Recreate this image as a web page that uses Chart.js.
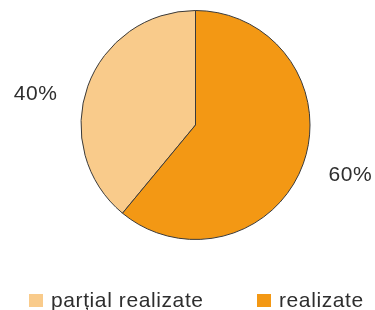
<!DOCTYPE html>
<html>
<head>
<meta charset="utf-8">
<script src="https://cdn.jsdelivr.net/npm/chart.js@4"></script>
<style>
  html, body { margin: 0; padding: 0; background: #fff; }
  #wrap { width: 375px; height: 310px; position: relative; }
</style>
</head>
<body>
<div id="wrap"><canvas id="myChart"></canvas></div>
<script>
const labels = ['parțial realizate', 'realizate'];
const values = [39, 61];
const valueLabels = ['40%', '60%'];
const colors = ['#F9CB8B', '#F39814'];

const FONT = '"Liberation Sans", Arial, sans-serif';
const TEXT = '#2e2e2e';

// percent labels + custom legend
const extras = {
    id: 'extras',
    afterDraw: (chart) => {
        const ctx = chart.ctx;
        const arcs = chart.getDatasetMeta(0).data;
        ctx.save();
        ctx.fillStyle = TEXT;
        ctx.font = '21px ' + FONT;
        ctx.letterSpacing = '0.6px';
        ctx.textAlign = 'center';
        ctx.textBaseline = 'middle';
        // nudges so labels sit like the original
        const nudge = [[-9, 24], [4, -4]];
        arcs.forEach((arc, i) => {
            const mid = (arc.startAngle + arc.endAngle) / 2;
            const dist = arc.outerRadius * 1.4;
            const x = arc.x + Math.cos(mid) * dist + nudge[i][0];
            const y = arc.y + Math.sin(mid) * dist + nudge[i][1];
            ctx.fillText(valueLabels[i], x, y);
        });

        // legend
        const itemX = [29, 257];
        const boxY = 294;
        ctx.textAlign = 'left';
        ctx.textBaseline = 'alphabetic';
        labels.forEach((lab, i) => {
            ctx.fillStyle = colors[i];
            ctx.fillRect(itemX[i], boxY, 14, 13);
            ctx.fillStyle = TEXT;
            ctx.fillText(lab, itemX[i] + 22, 307);
        });
        ctx.restore();
    },
};

const total = values.reduce((a, b) => a + b, 0);

const config = {
    type: 'pie',
    data: {
        labels: labels,
        datasets: [
            {
                data: values,
                backgroundColor: colors,
                borderColor: '#3a3a3a',
                borderWidth: 1,
            },
        ],
    },
    options: {
        responsive: true,
        maintainAspectRatio: false,
        animation: false,
        // first slice ends at 12 o'clock
        rotation: -360 * values[0] / total,
        layout: {
            padding: { left: 80, right: 64, top: 10, bottom: 70 },
        },
        plugins: {
            legend: { display: false },
            tooltip: { enabled: false },
        },
    },
    plugins: [extras],
};

const myChart = new Chart(document.getElementById('myChart'), config);
</script>
</body>
</html>
